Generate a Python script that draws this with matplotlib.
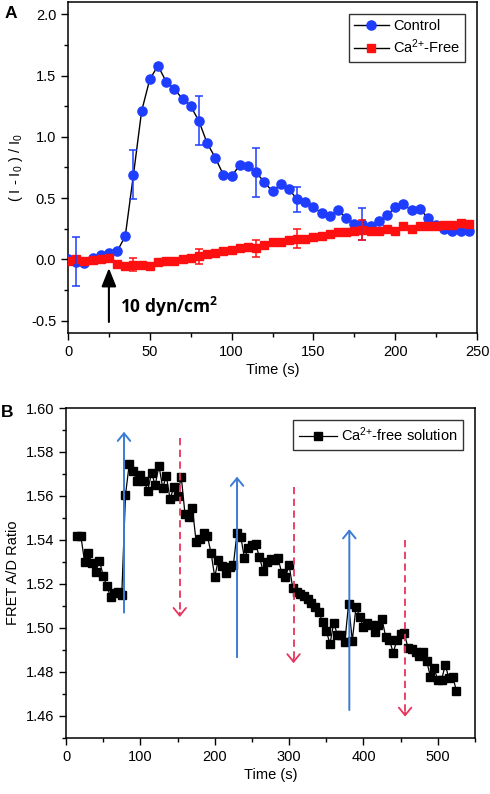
import numpy as np
import matplotlib
matplotlib.use("Agg")
import matplotlib.pyplot as plt
from matplotlib.ticker import MultipleLocator

plt.rcParams['font.family'] = ['Liberation Sans', 'DejaVu Sans']
plt.rcParams['mathtext.default'] = 'regular'

# ---------------- Panel A data ----------------
time_a = np.arange(0, 250, 5)
control = [0.0, -0.02, -0.03, 0.01, 0.04, 0.05, 0.065, 0.19, 0.69, 1.21,
           1.47, 1.58, 1.45, 1.39, 1.31, 1.25, 1.13, 0.95, 0.83, 0.69,
           0.68, 0.77, 0.76, 0.71, 0.63, 0.555, 0.615, 0.575, 0.49, 0.47,
           0.425, 0.38, 0.355, 0.40, 0.34, 0.29, 0.29, 0.27, 0.31, 0.36,
           0.425, 0.45, 0.40, 0.41, 0.34, 0.285, 0.245, 0.23, 0.235, 0.235]
ca_free = [-0.016, 0.0, -0.015, -0.005, 0.0, 0.01, -0.035, -0.05, -0.045, -0.045,
           -0.057, -0.02, -0.016, -0.01, 0.005, 0.01, 0.025, 0.045, 0.05, 0.065,
           0.08, 0.09, 0.105, 0.09, 0.12, 0.14, 0.146, 0.155, 0.17, 0.17,
           0.18, 0.19, 0.205, 0.22, 0.22, 0.23, 0.24, 0.23, 0.23, 0.25,
           0.235, 0.27, 0.25, 0.27, 0.275, 0.27, 0.285, 0.285, 0.30, 0.29]
control_err_t = [5, 40, 80, 115, 140, 180]
control_err = [0.2, 0.2, 0.2, 0.2, 0.1, 0.13]
cafree_err_t = [40, 80, 115, 140, 180]
cafree_err = [0.053, 0.061, 0.068, 0.08, 0.078]
stim_t = 25
stim_y = (-0.51, -0.07)

# ---------------- Panel B data ----------------
time_b = np.arange(15, 530, 5)
fret = [1.5418, 1.5418, 1.530, 1.534, 1.5294, 1.5256, 1.5306, 1.5238, 1.519, 1.514,
        1.5157, 1.5165, 1.515, 1.5605, 1.5744, 1.5715, 1.567, 1.5695, 1.5668, 1.5624,
        1.5706, 1.565, 1.5738, 1.5638, 1.569, 1.5585, 1.5642, 1.560, 1.5688, 1.5518,
        1.5506, 1.5544, 1.5392, 1.5403, 1.543, 1.542, 1.5342, 1.5233, 1.531, 1.528,
        1.5249, 1.5276, 1.5285, 1.5433, 1.5415, 1.5317, 1.5362, 1.5377, 1.5382, 1.5324,
        1.526, 1.5301, 1.5312, 1.531, 1.532, 1.5251, 1.523, 1.5286, 1.518, 1.5165,
        1.5155, 1.5145, 1.513, 1.5112, 1.5094, 1.5071, 1.5029, 1.4988, 1.4927, 1.5024,
        1.4968, 1.4968, 1.4938, 1.5109, 1.4942, 1.5097, 1.5051, 1.5003, 1.5021, 1.5014,
        1.498, 1.5014, 1.504, 1.4958, 1.4945, 1.4888, 1.4945, 1.4973, 1.4976, 1.4908,
        1.4903, 1.4893, 1.4873, 1.4893, 1.485, 1.4779, 1.4817, 1.4764, 1.4764, 1.4832,
        1.4771, 1.4779, 1.4715]
up_t = [78, 230, 381]
up_from = [1.507, 1.4867, 1.4627]
up_to = [1.5892, 1.5688, 1.5449]
down_t = [153, 306, 456]
down_from = [1.5862, 1.5642, 1.540]
down_to = [1.505, 1.484, 1.4597]

BLUE = '#1f3dff'
RED = '#ff1010'
ARROW_BLUE = '#3a7bd5'
ARROW_RED = '#e8345c'
FS = 10.5

fig = plt.figure(figsize=(4.9, 7.94), dpi=100)
axA = fig.add_axes([68/490, 1-333/794, (477-68)/490, (333-2)/794])
axB = fig.add_axes([66/490, 1-738/794, (475-66)/490, (738-408)/794])


def style(ax):
    for s in ax.spines.values():
        s.set_linewidth(1.1)
    ax.tick_params(which='both', direction='out', top=False, right=False,
                   labelsize=FS, width=1.0)
    ax.tick_params(which='major', length=5)
    ax.tick_params(which='minor', length=3)


# ---- Panel A ----
axA.plot(time_a, control, '-', color='black', lw=1.0, marker='o', ms=6.6,
         mfc=BLUE, mec=BLUE, label='Control', zorder=3)
axA.plot(time_a, ca_free, '-', color='black', lw=1.0, marker='s', ms=5.8,
         mfc=RED, mec=RED, label='Ca$^{2{+}}$-Free', zorder=3)
ci = [list(time_a).index(t) for t in control_err_t]
axA.errorbar(control_err_t, [control[i] for i in ci], yerr=control_err, fmt='none',
             ecolor=BLUE, elinewidth=1.1, capsize=3, capthick=1.1, zorder=4)
ri = [list(time_a).index(t) for t in cafree_err_t]
axA.errorbar(cafree_err_t, [ca_free[i] for i in ri], yerr=cafree_err, fmt='none',
             ecolor=RED, elinewidth=1.1, capsize=3, capthick=1.1, zorder=4)
axA.annotate('', xy=(stim_t, stim_y[1]), xytext=(stim_t, stim_y[0]),
             arrowprops=dict(arrowstyle='-|>,head_length=0.8,head_width=0.32',
                             lw=1.5, color='black', mutation_scale=14, shrinkA=0, shrinkB=0))
axA.text(32, -0.39, '10 dyn/cm$^2$', fontsize=12.5, fontweight='bold',
         family=['Open Sans', 'DejaVu Sans'], va='center', ha='left')
axA.set_xlim(0, 250)
axA.set_ylim(-0.6, 2.1)
axA.xaxis.set_major_locator(MultipleLocator(50))
axA.xaxis.set_minor_locator(MultipleLocator(25))
axA.yaxis.set_major_locator(MultipleLocator(0.5))
axA.yaxis.set_minor_locator(MultipleLocator(0.25))
axA.yaxis.set_major_formatter(matplotlib.ticker.FormatStrFormatter('%.1f'))
axA.set_xlabel('Time (s)', fontsize=FS, labelpad=3)
axA.set_ylabel('( I - I$_0$ ) / I$_0$', fontsize=FS, labelpad=4)
style(axA)
legA = axA.legend(loc='upper right', fontsize=FS, frameon=True, fancybox=False,
                  edgecolor='black', handlelength=2.4, borderpad=0.35,
                  labelspacing=0.35, handletextpad=0.3, borderaxespad=0.8)
legA.get_frame().set_linewidth(1.0)
fig.text(5/490, 1-18/794, 'A', fontsize=12.5, fontweight='bold', ha='left', va='baseline')

# ---- Panel B ----
axB.plot(time_b, fret, '-', color='black', lw=0.9, marker='s', ms=5.8,
         mfc='black', mec='black', label='Ca$^{2{+}}$-free solution', zorder=3)
for t, y0, y1 in zip(up_t, up_from, up_to):
    axB.annotate('', xy=(t, y1), xytext=(t, y0),
                 arrowprops=dict(arrowstyle='->,head_length=0.55,head_width=0.45',
                                 lw=1.4, color=ARROW_BLUE, mutation_scale=10,
                                 shrinkA=0, shrinkB=0), zorder=5)
for t, y0, y1 in zip(down_t, down_from, down_to):
    axB.plot([t, t], [y0, y1 + 0.002], ls=(0, (4, 2.5)), lw=1.3, color=ARROW_RED, zorder=5)
    axB.annotate('', xy=(t, y1), xytext=(t, y1 + 0.002),
                 arrowprops=dict(arrowstyle='->,head_length=0.55,head_width=0.45',
                                 lw=1.3, color=ARROW_RED, mutation_scale=10,
                                 shrinkA=0, shrinkB=0), zorder=5)
axB.set_xlim(0, 550)
axB.set_ylim(1.45, 1.60)
axB.xaxis.set_major_locator(MultipleLocator(100))
axB.xaxis.set_minor_locator(MultipleLocator(50))
axB.yaxis.set_major_locator(MultipleLocator(0.02))
axB.yaxis.set_minor_locator(MultipleLocator(0.01))
axB.yaxis.set_major_formatter(matplotlib.ticker.FormatStrFormatter('%.2f'))
axB.set_xlabel('Time (s)', fontsize=FS, labelpad=3)
axB.set_ylabel('FRET A/D Ratio', fontsize=FS, labelpad=4)
style(axB)
legB = axB.legend(loc='upper right', fontsize=FS, frameon=True, fancybox=False,
                  edgecolor='black', handlelength=2.6, borderpad=0.4,
                  handletextpad=0.3, borderaxespad=0.8)
legB.get_frame().set_linewidth(1.0)
fig.text(1/490, 1-417/794, 'B', fontsize=12.5, fontweight='bold', ha='left', va='baseline')

fig.savefig('out.png', dpi=100)
